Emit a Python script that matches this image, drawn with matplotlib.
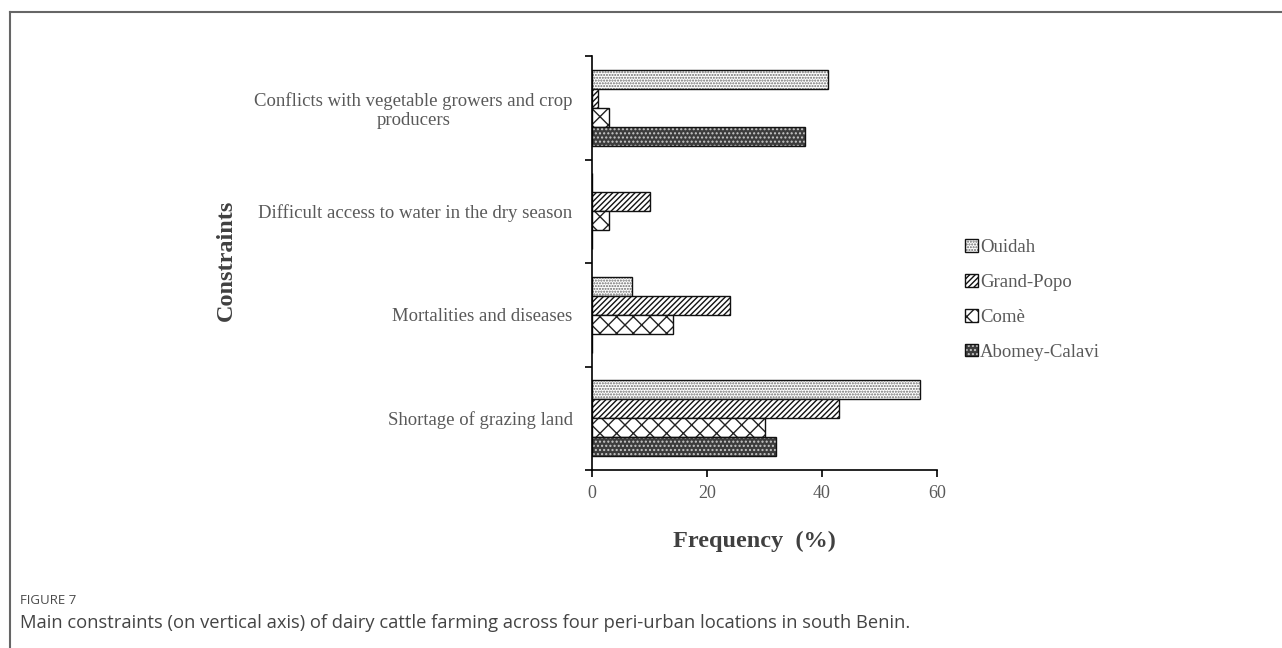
import matplotlib
matplotlib.use("Agg")
import matplotlib.pyplot as plt
import numpy as np
from matplotlib.patches import Patch
from matplotlib.lines import Line2D
from matplotlib.legend_handler import HandlerTuple

# data
constraints = ["Shortage of grazing land",
               "Mortalities and diseases",
               "Difficult access to water in the dry season",
               "Conflicts with vegetable growers and crop\nproducers"]
locations = ["Ouidah", "Grand-Popo", "Comè", "Abomey-Calavi"]
ouidah = [57, 7, 0, 41]
grand_popo = [43, 24, 10, 1]
come = [30, 14, 3, 3]
abomey_calavi = [32, 0, 0, 37]
series = [ouidah, grand_popo, come, abomey_calavi]

# face, hatch, hatch colour
styles = [("white", "......", "#6a6a6a"),
          ("white", "//////", "#111111"),
          ("white", "xx", "#222222"),
          ("#3c3c3c", "....", "#c8c8c8")]

plt.rcParams["hatch.linewidth"] = 1.0
serif = ["Liberation Serif", "DejaVu Serif"]
sans = ["Open Sans", "DejaVu Sans"]
txt_gray = "#595959"

fig = plt.figure(figsize=(12.82, 6.48), dpi=100)
ax = fig.add_axes([592/1282, 1-470/648, 345/1282, 414/648])

y = np.arange(len(constraints))
w = 0.1825
offsets = [1.5*w, 0.5*w, -0.5*w, -1.5*w]
for vals, off, (fc, h, hc) in zip(series, offsets, styles):
    ax.barh(y + off, vals, height=w, color=fc, hatch=h, edgecolor=hc, linewidth=0)
    ax.barh(y + off, vals, height=w, fill=False, edgecolor="#111111", linewidth=1.0)

ax.set_xlim(0, 60)
ax.set_ylim(-0.5, 3.5)
ax.set_xticks([0, 20, 40, 60])
ax.set_yticks(np.arange(-0.5, 4, 1.0))
ax.set_yticklabels([])
ax.set_yticks(y, minor=True)
ax.set_yticklabels(constraints, minor=True, family=serif, fontsize=13.5,
                   color=txt_gray, multialignment="center", linespacing=1.15)
ax.tick_params(axis="y", which="minor", length=0, pad=14)
ax.tick_params(axis="y", which="major", length=5, width=1.2, color="black")
ax.tick_params(axis="x", length=5, width=1.2, color="black", pad=6,
               labelsize=13, labelcolor=txt_gray)
for lab in ax.get_xticklabels():
    lab.set_family(serif)
for s in ["top", "right"]:
    ax.spines[s].set_visible(False)
for s in ["left", "bottom"]:
    ax.spines[s].set_linewidth(1.2)
    ax.spines[s].set_color("black")

fig.text(754/1282, 1-541/648, "Frequency  (%)", family=serif, fontsize=17.5,
         fontweight="bold", color="#404040", ha="center", va="center")
fig.text(226/1282, 1-260/648, "Constraints", rotation=90, family=serif,
         fontsize=17.5, fontweight="bold", color="#404040", ha="center", va="center")

handles = [(Patch(facecolor=fc, hatch=h, edgecolor=hc, linewidth=0),
            Patch(fill=False, edgecolor="#111111", linewidth=1.0))
           for fc, h, hc in styles]
leg = fig.legend(handles, locations, loc="center left",
                 bbox_to_anchor=(956/1282, 1-300/648), frameon=False,
                 prop={"family": serif, "size": 13.5},
                 handlelength=0.65, handleheight=0.65, handletextpad=0.12,
                 labelspacing=0.95, borderpad=0,
                 handler_map={tuple: HandlerTuple(ndivide=1)})
for t in leg.get_texts():
    t.set_color(txt_gray)

# page frame and caption
fig.add_artist(Line2D([10/1282, 1], [1-12/648, 1-12/648], color="#666666", lw=1.5))
fig.add_artist(Line2D([10/1282, 10/1282], [0, 1-12/648], color="#666666", lw=1.5))
fig.text(20/1282, 1-601/648, "FIGURE 7", family=sans,
         fontsize=9.5, color="#4a4a4a", va="center")
fig.text(20/1282, 1-623/648,
         "Main constraints (on vertical axis) of dairy cattle farming across four peri-urban locations in south Benin.",
         family=sans, fontsize=13.2, color="#444444", va="center")

fig.savefig("out.png", dpi=100)
